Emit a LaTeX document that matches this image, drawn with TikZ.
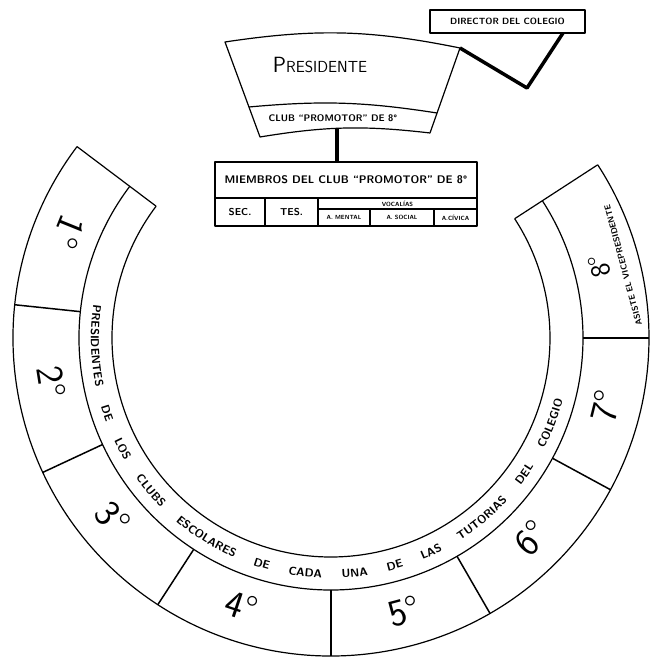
\documentclass[tikz,border=0pt]{standalone}
\usepackage{fontspec}
\usepackage{xcolor}
\usetikzlibrary{positioning,decorations.text}
\newcommand{\rotulo}{\sffamily\bfseries}
\newcommand{\tam}[1]{\fontsize{#1}{#1}\selectfont}

\begin{document}
\begin{tikzpicture}[
  x=1pt, y=1pt, line join=round,
  ring/.style={line width=1.2pt},
  divisor/.style={line width=1.5pt},
  link/.style={line width=3.5pt},
  cell/.style={draw, line width=1.2pt, inner sep=0pt, outer sep=0pt, anchor=north west, align=center},
  caja/.style={draw, line width=1.2pt, inner sep=0pt, outer sep=0pt},
  grado/.style={font=\sffamily\tam{38}}]
\useasboundingbox (0,0) rectangle (650,658);
\coordinate (C) at (331,320);
% anillo de los clubs escolares
\foreach \r in {219,252,318}
  \draw[ring] ([shift={(143:\r)}]C) arc[start angle=143, end angle=393, radius=\r];
\foreach \ang in {143,393}
  \draw[ring] ([shift={(\ang:219)}]C) -- ([shift={(\ang:318)}]C);
\foreach \ang in {174,205,237,270,300,331.5,360}
  \draw[divisor] ([shift={(\ang:252)}]C) -- ([shift={(\ang:318)}]C);
\foreach \ang/\num in {158/1,189/2,219.5/3,251.5/4,285/5,315/6,346/7}
  \node[grado, rotate=\ang+90] (g\num) at ([shift={(\ang:283)}]C) {\num°};
\node[font=\sffamily\tam{28}, rotate=105] (g8) at ([shift={(15:278)}]C) {8°};
\node[font=\rotulo\tam{8.5}, rotate=105] (asiste) at ([shift={(14:301)}]C) {ASISTE EL VICEPRESIDENTE};
\path[decorate, decoration={text along path, text align={fit to path stretching spaces},
  text={|\rotulo\tam{11.5}|PRESIDENTES DE LOS CLUBS ESCOLARES DE CADA UNA DE LAS TUTORIAS DEL COLEGIO}}]
  ([shift={(172:240)}]C) arc[start angle=172, end angle=345, radius=240];
% presidente
\coordinate (p-tl) at (225,616);
\coordinate (p-tr) at (460,610);
\coordinate (p-br) at (430,525);
\coordinate (p-bl) at (260,521);
\coordinate (p-ml) at (249,551);
\coordinate (p-mr) at (437,545);
\draw[ring] (p-tl) to[bend left=10] (p-tr) -- (p-br) to[bend right=8] (p-bl) -- cycle;
\draw[ring] (p-ml) to[bend left=7] (p-mr);
\node[font=\sffamily\tam{16}] (presidente) at (320,593) {{\tam{22}P}RESIDENTE};
\node[font=\rotulo\tam{9.5}] (club) at (333,540) {CLUB ``PROMOTOR'' DE 8°};
% miembros del club
\node[cell, minimum width=262pt, minimum height=36pt, font=\rotulo\tam{11}] (miembros) at (215,496) {MIEMBROS DEL CLUB ``PROMOTOR'' DE 8°};
\node[cell, minimum width=50pt, minimum height=28pt, font=\rotulo\tam{10}] (sec) at (miembros.south west) {SEC.};
\node[cell, minimum width=53pt, minimum height=28pt, font=\rotulo\tam{10}] (tes) at (sec.north east) {TES.};
\node[cell, minimum width=159pt, minimum height=11pt, font=\rotulo\tam{6}] (vocal) at (tes.north east) {VOCALÍAS};
\node[cell, minimum width=52pt, minimum height=17pt, font=\rotulo\tam{6}] (mental) at (vocal.south west) {A. MENTAL};
\node[cell, minimum width=64pt, minimum height=17pt, font=\rotulo\tam{6}] (social) at (mental.north east) {A. SOCIAL};
\node[cell, minimum width=43pt, minimum height=17pt, font=\rotulo\tam{6}] (civica) at (social.north east) {A.CÍVICA};
\coordinate (p-s) at (337,529);
\draw[link] (p-s) -- (p-s |- miembros.north);
% director
\node[caja, minimum width=155pt, minimum height=23pt, font=\rotulo\tam{9}] (director) at (507.5,636.5) {DIRECTOR DEL COLEGIO};
\coordinate (codo) at (527,570);
\draw[link] (p-tr) -- (codo) -- ([xshift=-22pt]director.south east);
\end{tikzpicture}
\end{document}
